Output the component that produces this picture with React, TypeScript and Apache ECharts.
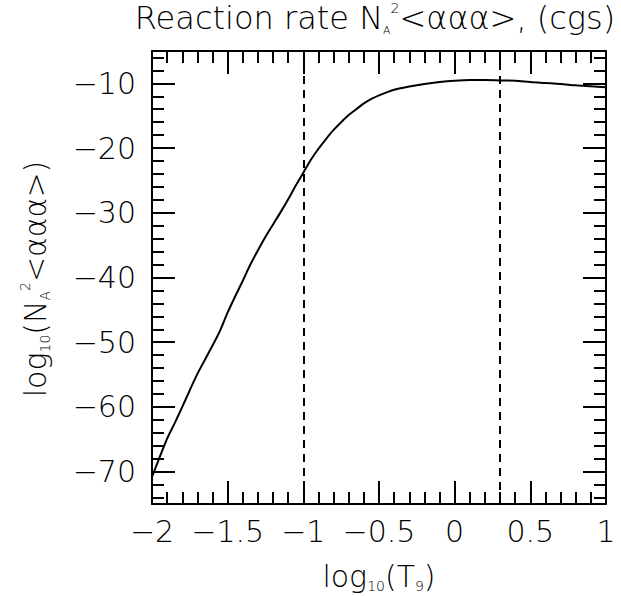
import React, { useEffect, useRef } from 'react';
import * as echarts from 'echarts';

// log10(T9)
const logT9 = [
  -2.0, -1.95, -1.9, -1.85, -1.8, -1.75, -1.7, -1.65, -1.6, -1.55, -1.5, -1.45, -1.4, -1.35, -1.3,
  -1.25, -1.2, -1.15, -1.1, -1.05, -1.0, -0.95, -0.9, -0.85, -0.8, -0.75, -0.7, -0.65, -0.6, -0.55,
  -0.5, -0.45, -0.4, -0.3, -0.2, -0.1, 0.0, 0.1, 0.2, 0.3, 0.4, 0.5, 0.6, 0.7, 0.8, 0.9, 1.0,
];
// log10(NA^2 <aaa>)
const logRate = [
  -70.8, -67.8, -64.9, -62.5, -60.0, -57.4, -54.9, -52.7, -50.5, -48.2, -45.4, -42.9, -40.5, -38.0, -35.8,
  -33.7, -31.8, -29.9, -27.9, -25.8, -23.8, -21.8, -20.1, -18.6, -17.2, -16.0, -14.9, -14.0, -13.1, -12.4,
  -11.85, -11.4, -11.0, -10.5, -10.1, -9.8, -9.6, -9.5, -9.5, -9.55, -9.6, -9.8, -9.95, -10.1, -10.3, -10.45, -10.6,
];
// vertical reference lines (log10 T9)
const refLines = [-1.0, 0.301];

const xMin = -2;
const xMax = 1;
const xMajorStep = 0.5;
const yMin = -75;
const yMax = -5;
const yMajorTicks = [-70, -60, -50, -40, -30, -20, -10];
const yMinorTicks = [
  -74, -72, -68, -66, -64, -62, -58, -56, -54, -52, -48, -46, -44, -42, -38, -36, -34, -32,
  -28, -26, -24, -22, -18, -16, -14, -12, -8, -6,
];

const FONT = 'DejaVu Sans';
const WEIGHT = 200;
const fmt = (v: number) => {
  const s = String(Math.abs(Math.round(v * 100) / 100));
  return v < 0 ? '\u2212' + s : s;
};

export default function App() {
  const ref = useRef<HTMLDivElement>(null);
  useEffect(() => {
    document.body.style.margin = '0';
    const chart = echarts.init(ref.current!, undefined, { renderer: 'svg' });
    const lineCol = '#000';
    const labelStyle = { color: '#000', fontFamily: FONT, fontWeight: WEIGHT, fontSize: 30 };
    const gridLeft = 152, gridTop = 51, gridRight = 15, gridBottom = 92;

    const xBase = (pos: 'bottom' | 'top', labels: boolean) => ({
      type: 'value',
      position: pos,
      min: xMin,
      max: xMax,
      interval: xMajorStep,
      axisLine: { show: true, onZero: false, lineStyle: { color: lineCol, width: 2 } },
      axisTick: { show: true, inside: true, length: 23, lineStyle: { color: lineCol, width: 2 } },
      minorTick: { show: true, splitNumber: 5, length: 12, lineStyle: { color: lineCol, width: 2 } },
      splitLine: { show: false },
      minorSplitLine: { show: false },
      axisLabel: labels
        ? { show: true, ...labelStyle, margin: 12, formatter: fmt, showMinLabel: true, showMaxLabel: true, hideOverlap: false }
        : { show: false },
    });

    const yBase = (pos: 'left' | 'right', ticks: number[], len: number, labels: boolean, line: boolean) => ({
      type: 'value',
      position: pos,
      min: yMin,
      max: yMax,
      axisLine: { show: line, onZero: false, lineStyle: { color: lineCol, width: 2 } },
      axisTick: { show: true, inside: true, length: len, customValues: ticks, lineStyle: { color: lineCol, width: 2 } },
      splitLine: { show: false },
      axisLabel: labels
        ? { show: true, ...labelStyle, margin: 16, customValues: ticks, formatter: fmt }
        : { show: false },
    });

    const smallT = 14;
    const n = (size: number, lh: number) => ({ fontFamily: FONT, fontWeight: WEIGHT, fontSize: size, fill: '#000', lineHeight: lh });
    chart.setOption({
      animation: false,
      backgroundColor: '#fff',
      grid: { left: gridLeft, top: gridTop, right: gridRight, bottom: gridBottom, containLabel: false },
      xAxis: [xBase('bottom', true), xBase('top', false)],
      yAxis: [
        yBase('left', yMajorTicks, 23, true, true),
        yBase('left', yMinorTicks, 12, false, false),
        yBase('right', yMajorTicks, 23, false, true),
        yBase('right', yMinorTicks, 12, false, false),
      ],
      series: [
        {
          type: 'line',
          xAxisIndex: 0,
          yAxisIndex: 0,
          data: logT9.map((x, i) => [x, logRate[i]]),
          showSymbol: false,
          smooth: 0.3,
          lineStyle: { color: '#000', width: 2 },
          markLine: {
            silent: true,
            symbol: 'none',
            label: { show: false },
            lineStyle: { color: '#000', width: 2, type: [8, 6] },
            data: refLines.map((v) => ({ xAxis: v })),
          },
        },
      ],
      graphic: [
        {
          type: 'text',
          x: 375,
          y: 18,
          style: {
            text: '{n|Reaction rate N}{sb|A}{sp|2}{n|<\u03b1\u03b1\u03b1>, (cgs)}',
            align: 'center',
            verticalAlign: 'middle',
            rich: {
              n: n(32, 35),
              sb: { ...n(11, 35), verticalAlign: 'bottom' },
              sp: { ...n(smallT, 35), verticalAlign: 'top' },
            },
          },
        },
        {
          type: 'text',
          x: 379,
          y: 576,
          style: {
            text: '{n|log}{sb|10}{n|(T}{sb|9}{n|)}',
            align: 'center',
            verticalAlign: 'middle',
            rich: {
              n: n(30, 34),
              sb: { ...n(smallT, 34), verticalAlign: 'bottom' },
            },
          },
        },
        {
          type: 'text',
          x: 35,
          y: 279,
          rotation: Math.PI / 2,
          style: {
            text: '{n|log}{sb|10}{n|(N}{sb|A}{sp|2}{n|<\u03b1\u03b1\u03b1>)}',
            align: 'center',
            verticalAlign: 'middle',
            rich: {
              n: n(30, 34),
              sb: { ...n(smallT, 34), verticalAlign: 'bottom' },
              sp: { ...n(smallT, 34), verticalAlign: 'top' },
            },
          },
        },
      ],
    });
    return () => chart.dispose();
  }, []);
  return (
    <div
      ref={ref}
      style={{ position: 'fixed', left: 0, top: 0, width: 621, height: 596, background: '#fff' }}
    />
  );
}
